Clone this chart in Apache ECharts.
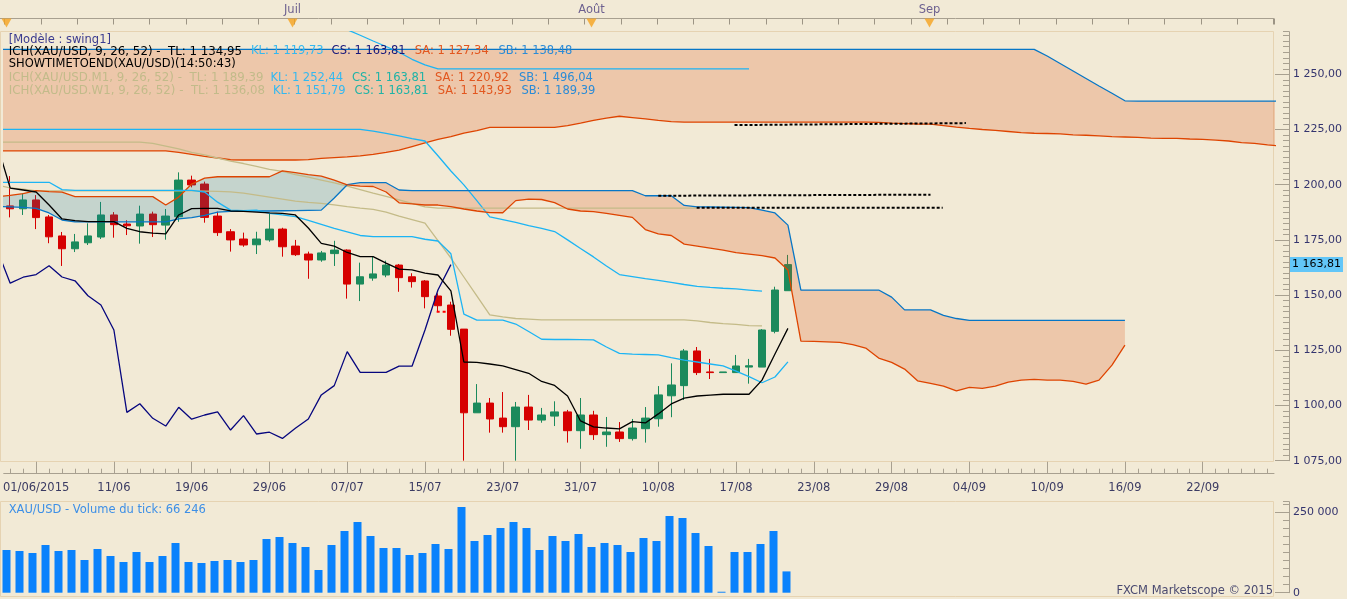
<!DOCTYPE html>
<html><head><meta charset="utf-8">
<script src="https://cdn.jsdelivr.net/npm/echarts@6.0.0/dist/echarts.min.js"></script>
<style>html,body{margin:0;padding:0;background:#f2ead6;overflow:hidden}#chart{width:1347px;height:599px}</style>
</head><body><div id="chart"></div>
<script>
// ================= DATA =================
const barCount = 98;
const tickLabels = ['01/06/2015','11/06','19/06','29/06','07/07','15/07','23/07','31/07','10/08','17/08','23/08','29/08','04/09','10/09','16/09','22/09'];
const tickFirstBar = 2, tickEvery = 6;
const priceTicks = [1075,1100,1125,1150,1175,1200,1225,1250];
const volumeTicks = [0,250000];
const monthBars = [0,22,45,71];
const monthNames = ['','Juil','Août','Sep'];

const open  = [1190.4,1189.1,1193.1,1185.4,1176.8,1171.0,1173.7,1176.3,1186.3,1182.2,1181.3,1186.7,1181.7,1185.5,1202.1,1200.3,1185.8,1178.7,1175.4,1172.8,1175.0,1179.9,1172.2,1168.6,1165.9,1168.8,1170.4,1155.0,1157.7,1159.1,1163.6,1158.3,1156.4,1149.6,1145.5,1134.6,1096.7,1101.1,1094.3,1090.4,1099.3,1093.4,1095.2,1097.1,1088.6,1095.7,1086.8,1088.0,1085.0,1089.5,1094.0,1104.4,1109.0,1124.7,1115.2,1114.9,1114.9,1117.4,1117.4,1133.6,1152.0];
const close = [1189.1,1193.1,1185.1,1176.4,1171.0,1174.1,1176.8,1186.3,1181.9,1181.4,1186.7,1181.9,1185.8,1202.1,1199.9,1185.2,1178.3,1175.0,1172.7,1175.4,1179.9,1171.9,1168.3,1165.9,1169.1,1170.4,1155.0,1158.3,1159.6,1163.6,1157.9,1156.1,1149.3,1145.2,1134.5,1096.7,1101.1,1093.9,1090.4,1099.3,1093.4,1095.7,1097.1,1088.6,1095.7,1086.8,1088.0,1085.0,1089.8,1094.3,1104.8,1109.3,1124.7,1114.9,1114.9,1115.2,1117.9,1118.0,1134.2,1152.3,1163.81];
const low   = [1185.2,1186.3,1179.9,1173.5,1163.2,1169.5,1172.7,1175.4,1176.0,1177.2,1173.3,1176.3,1175.1,1183.2,1198.8,1182.8,1176.8,1169.7,1171.9,1168.6,1174.2,1167.4,1167.7,1157.4,1165.1,1163.2,1148.4,1147.3,1156.5,1158.1,1151.5,1153.4,1144.0,1142.5,1131.6,1075.0,1096.7,1087.7,1087.7,1075.0,1088.9,1092.2,1090.7,1083.2,1080.4,1084.4,1081.3,1083.5,1084.1,1083.2,1090.4,1094.7,1102.5,1113.8,1112.0,1114.9,1114.9,1109.9,1117.4,1132.7,1152.0];
const high  = [1203.9,1196.1,1195.3,1186.3,1178.6,1177.7,1182.5,1192.2,1187.6,1183.9,1190.5,1187.8,1189.0,1205.6,1204.1,1201.4,1187.8,1179.9,1178.3,1178.7,1187.3,1180.5,1175.0,1169.7,1170.0,1174.6,1170.7,1164.7,1167.4,1165.6,1164.1,1159.9,1156.8,1150.8,1147.0,1134.6,1109.7,1103.4,1106.1,1101.6,1104.8,1098.9,1101.9,1098.0,1103.4,1097.6,1094.8,1092.5,1093.9,1099.3,1108.8,1119.1,1125.6,1126.5,1121.1,1115.2,1122.9,1121.1,1134.6,1153.8,1168.2];
const volume = [132800,129700,123400,148300,129700,132800,101700,135900,114100,95500,126600,95500,114100,154500,95500,92400,98600,101700,95500,101700,167000,173200,154500,142100,70600,148300,191900,219800,176300,139000,139000,117200,123400,151400,135900,266500,160800,179400,201200,219800,201200,132800,176300,160800,182500,142100,154500,148300,126600,170100,160800,238500,232300,185600,145200,3000,126600,126600,151400,191900,66246];

// daily Ichimoku (bar index of first value = -1)
const lineStart = -1;
const tenkan = [1218.0,1198.5,1197.6,1196.7,1190.8,1184.5,1183.7,1183.3,1183.3,1183.3,1180.2,1178.7,1178.1,1177.7,1186.3,1189.2,1189.3,1189.3,1188.1,1187.9,1187.6,1187.2,1187.0,1186.3,1180.4,1173.4,1172.2,1169.3,1167.4,1167.4,1164.5,1161.8,1161.4,1160.0,1159.1,1151.9,1119.7,1119.5,1118.8,1117.9,1116.3,1114.6,1110.9,1109.1,1104.3,1093.0,1090.3,1089.8,1089.4,1092.7,1092.1,1096.2,1100.7,1103.3,1104.3,1104.7,1105.1,1105.1,1105.1,1111.5,1123.3,1134.95];
const kijun = [1201.1,1201.1,1201.1,1201.1,1201.1,1197.8,1197.4,1197.4,1197.4,1197.4,1197.4,1197.4,1197.4,1197.4,1197.4,1197.4,1196.7,1192.1,1188.5,1188.3,1188.5,1187.0,1186.3,1185.5,1183.8,1182.0,1180.2,1178.6,1177.0,1176.5,1176.5,1176.5,1176.5,1175.3,1174.5,1168.7,1141.4,1138.7,1138.7,1138.7,1136.9,1133.5,1130.0,1129.9,1129.9,1129.8,1129.7,1126.5,1123.6,1123.3,1123.1,1122.9,1121.7,1120.6,1119.7,1118.8,1117.9,1115.6,1113.1,1110.3,1112.9,1119.73];
const chikou = [1170.4,1155.4,1158.1,1159.3,1163.3,1158.2,1156.5,1149.7,1145.5,1134.2,1096.9,1100.8,1094.2,1090.7,1099.2,1093.8,1095.7,1097.1,1088.9,1095.4,1087.1,1087.9,1085.1,1089.7,1093.9,1104.8,1109.0,1124.4,1115.0,1115.0,1115.0,1117.8,1117.8,1134.2,1152.3,1163.81];
const spanA = [1194.5,1195.2,1196.0,1197.3,1196.9,1196.6,1194.6,1194.6,1194.6,1194.6,1194.6,1194.6,1194.6,1190.8,1194.4,1200.3,1203.0,1203.6,1203.6,1203.6,1203.6,1203.6,1206.3,1205.5,1204.6,1203.9,1202.1,1199.9,1199.4,1199.2,1196.7,1191.8,1191.3,1190.8,1190.8,1190.1,1189.0,1188.1,1187.4,1187.3,1192.8,1193.5,1193.3,1191.9,1189.0,1188.1,1187.8,1187.0,1186.1,1185.2,1179.7,1177.7,1177.0,1173.1,1172.2,1171.3,1170.4,1169.2,1168.6,1167.9,1166.8,1161.4,1129.2,1129.0,1128.8,1128.6,1127.6,1126.0,1121.5,1119.5,1116.5,1111.2,1110.0,1108.8,1106.6,1108.2,1107.8,1108.8,1110.6,1111.5,1111.8,1111.5,1111.5,1110.9,1109.7,1111.5,1118.3,1127.3];
const spanB = [1190.2,1190.0,1189.7,1189.3,1187.2,1184.0,1183.2,1183.2,1183.2,1183.2,1183.2,1183.2,1183.2,1183.2,1184.5,1185.1,1186.1,1187.6,1187.9,1188.0,1188.1,1188.1,1188.2,1188.3,1188.4,1188.5,1194.0,1200.0,1200.9,1200.9,1200.9,1197.6,1197.3,1197.3,1197.3,1197.3,1197.3,1197.3,1197.3,1197.3,1197.3,1197.3,1197.3,1197.3,1197.3,1197.3,1197.3,1197.3,1197.3,1197.3,1195.0,1195.0,1195.0,1190.6,1190.0,1189.9,1189.8,1189.7,1189.6,1188.5,1187.2,1181.7,1152.3,1152.3,1152.3,1152.3,1152.3,1152.3,1152.3,1149.1,1143.3,1143.3,1143.3,1140.8,1139.4,1138.6,1138.6,1138.6,1138.6,1138.6,1138.6,1138.6,1138.6,1138.6,1138.6,1138.6,1138.6,1138.6];

// monthly Ichimoku
const m1SpanA = [1215.3,1215.3,1215.3,1215.3,1215.3,1215.3,1215.3,1215.3,1215.3,1215.3,1215.3,1215.3,1215.3,1215.3,1214.6,1213.7,1212.8,1212.1,1211.3,1211.2,1211.2,1211.2,1211.2,1211.2,1211.4,1211.9,1212.3,1212.6,1213.1,1213.7,1214.6,1215.7,1217.3,1218.9,1220.5,1221.8,1223.4,1224.5,1226.0,1226.0,1226.0,1226.0,1226.0,1226.0,1226.8,1227.9,1229.1,1230.2,1231.0,1230.4,1229.8,1229.1,1228.6,1228.3,1228.3,1228.3,1228.3,1228.3,1228.3,1228.3,1228.3,1228.3,1228.3,1228.3,1228.3,1228.3,1228.3,1228.3,1228.2,1227.9,1227.7,1227.5,1227.4,1226.8,1226.1,1225.5,1225.0,1224.6,1224.1,1223.6,1223.3,1223.2,1223.0,1222.6,1222.4,1222.1,1221.8,1221.6,1221.4,1221.1,1221.0,1221.0,1220.7,1220.5,1220.2,1219.8,1219.1,1218.7,1218.0,1217.5];
const m1SpanB = [1261.3,1261.3,1261.3,1261.3,1261.3,1261.3,1261.3,1261.3,1261.3,1261.3,1261.3,1261.3,1261.3,1261.3,1261.3,1261.3,1261.3,1261.3,1261.3,1261.3,1261.3,1261.3,1261.3,1261.3,1261.3,1261.3,1261.3,1261.3,1261.3,1261.3,1261.3,1261.3,1261.3,1261.3,1261.3,1261.3,1261.3,1261.3,1261.3,1261.3,1261.3,1261.3,1261.3,1261.3,1261.3,1261.3,1261.3,1261.3,1261.3,1261.3,1261.3,1261.3,1261.3,1261.3,1261.3,1261.3,1261.3,1261.3,1261.3,1261.3,1261.3,1261.3,1261.3,1261.3,1261.3,1261.3,1261.3,1261.3,1261.3,1261.3,1261.3,1261.3,1261.3,1261.3,1261.3,1261.3,1261.3,1261.3,1261.3,1261.3,1261.3,1258.3,1254.9,1251.5,1248.1,1244.7,1241.4,1238.0,1237.9,1237.9,1237.9,1237.9,1237.9,1237.9,1237.9,1237.9,1237.9,1237.9,1237.9,1237.9];
const m1Tenkan = [1219.3,1219.3,1219.3,1219.3,1219.3,1219.3,1219.3,1219.3,1219.3,1219.3,1219.3,1219.3,1218.7,1217.5,1216.2,1214.6,1213.5,1212.1,1210.7,1209.6,1208.3,1206.9,1206.0,1204.6,1203.4,1202.1,1200.8,1199.4,1197.8,1196.2,1194.7,1193.1,1191.5,1190.0,1189.4,1189.4,1189.4,1189.4,1189.4,1189.4,1189.4,1189.4,1189.4,1189.4,1189.4,1189.4,1189.4,1189.4,1189.4,1189.4,1189.4,1189.4,1189.4,1189.4,1189.4];
const m1KijunStart = 25;
const m1Kijun = [1272.8,1270.2,1267.7,1265.1,1262.6,1260.0,1256.8,1254.3,1252.5,1252.5,1252.5,1252.5,1252.5,1252.5,1252.5,1252.5,1252.5,1252.5,1252.5,1252.5,1252.5,1252.5,1252.5,1252.5,1252.5,1252.5,1252.5,1252.5,1252.5,1252.5,1252.5,1252.5,1252.5];
// weekly Ichimoku
const w1Tenkan = [1199.8,1198.6,1198.0,1197.2,1197.2,1197.2,1197.2,1197.2,1197.2,1197.2,1197.2,1197.2,1197.2,1197.2,1197.2,1197.2,1197.1,1197.0,1196.8,1196.2,1195.3,1194.4,1193.5,1192.6,1192.0,1191.5,1190.9,1190.1,1189.4,1188.8,1187.6,1185.8,1184.2,1182.6,1174.7,1166.8,1158.2,1149.6,1141.0,1140.1,1139.4,1139.1,1138.8,1138.8,1138.8,1138.8,1138.8,1138.8,1138.8,1138.8,1138.8,1138.8,1138.8,1138.8,1138.3,1137.6,1137.1,1136.7,1136.2,1136.08];
const w1Kijun = [1225.1,1225.1,1225.1,1225.1,1225.1,1225.1,1225.1,1225.1,1225.1,1225.1,1225.1,1225.1,1225.1,1225.1,1225.1,1225.1,1225.1,1225.1,1225.1,1225.1,1225.1,1225.1,1225.1,1225.1,1225.1,1225.1,1225.1,1225.1,1225.1,1224.3,1223.2,1222.1,1220.9,1219.8,1213.1,1206.2,1199.9,1192.8,1185.4,1184.2,1182.9,1181.5,1180.2,1178.8,1175.0,1171.1,1167.3,1163.2,1159.3,1158.4,1157.5,1156.7,1155.8,1154.8,1154.0,1153.5,1153.1,1152.8,1152.3,1151.79];

// drawn horizontal levels: [barStart, priceStart, barEnd, priceEnd]
const levelLines = [[55.88,1227.0,73.73,1227.9],[50.0,1195.0,71.0,1195.5],[52.96,1189.6,71.94,1189.6]];
const stopMark = [32.9,1142.5,33.7,1142.5];
const lastPrice = 1163.81;

// legend texts
const legendRows = [
  [['[Modèle : swing1]','model']],
  [['ICH(XAU/USD, 9, 26, 52) -  TL: 1 134,95','black'],['KL: 1 119,73','kl'],['CS: 1 163,81','cs'],['SA: 1 127,34','sa'],['SB: 1 138,48','sb']],
  [['SHOWTIMETOEND(XAU/USD)(14:50:43)','black']],
  [['ICH(XAU/USD.M1, 9, 26, 52) -  TL: 1 189,39','tlx'],['KL: 1 252,44','kl'],['CS: 1 163,81','csx'],['SA: 1 220,92','sa'],['SB: 1 496,04','sb']],
  [['ICH(XAU/USD.W1, 9, 26, 52) -  TL: 1 136,08','tlx'],['KL: 1 151,79','kl'],['CS: 1 163,81','csx'],['SA: 1 143,93','sa'],['SB: 1 189,39','sb']]
];
const volumeTitle = 'XAU/USD - Volume du tick: 66 246';
const copyright = 'FXCM Marketscope © 2015';

// ================= STYLE / LAYOUT =================
const FONT = '"DejaVu Sans", Verdana, sans-serif';
const C = {bg:'#f2ead6', border:'#e6d3b2', axis:'#a8a090', label:'#34346e', green:'#1b8a5c', red:'#d60000',
  black:'#000000', kl:'#1cb4f4', cs:'#06067e', sa:'#de4400', sb:'#0676c6', tlx:'#c4bb88', csx:'#1fb2a4', model:'#3b3b8f',
  blueCloud:'rgba(20,125,170,0.2)', peachCloud:'rgba(220,70,10,0.21)', vol:'#0a82fc'};
const LW = 1.3;
const legendColor = {model:'#3b3b8f', black:'#000', kl:'#33b8f0', cs:'#17177a', sa:'#e2561e', sb:'#2b8bd6', tlx:'#c2bb8a', csx:'#1fb3a6'};
const legendX = [[8.7],[8.7,251,331.6,414.8,498.5],[8.7],[8.7,270.4,352,435,519],[8.7,273,354.6,437.8,521.4]];
const legendY = [40,51.5,64.5,78,91];
const PLOT_W = 1274, MAIN_TOP = 31.7, MAIN_H = 429, VOL_TOP = 501.7, VOL_H = 91;

function fmtNum(v, dec){
  const s = v.toFixed(dec); const parts = s.split('.');
  const ip = parts[0].replace(/\B(?=(\d{3})+(?!\d))/g,' ');
  return parts[1] ? ip + ',' + parts[1] : ip;
}
const isTickBar = i => i >= tickFirstBar && (i - tickFirstBar) % tickEvery === 0 && (i - tickFirstBar) / tickEvery < tickLabels.length;
const categories = Array.from({length: barCount}, (_, i) => isTickBar(i) ? tickLabels[(i - tickFirstBar) / tickEvery] : 'b' + i);

function lineSeries(arr, start, color, extra){
  return Object.assign({type:'line', xAxisIndex:2, yAxisIndex:0, data: arr.map((v,i)=>[start+i, v]),
    symbol:'none', showSymbol:false, silent:true, z:4, animation:false,
    lineStyle:{color: color, width:LW}}, extra || {});
}
function cloudSeries(A, B, start){
  return {type:'custom', xAxisIndex:2, yAxisIndex:0, clip:true, silent:true, z:3, animation:false,
    data:[[0,0]],
    renderItem: function(params, api){
      const P = (x,v) => api.coord([x,v]);
      const polys = []; let up = [], dn = [], sign = 0;
      for (let i = 0; i < A.length; i++){
        const x = start + i, d = A[i] - B[i];
        const s = d > 0 ? 1 : (d < 0 ? -1 : (sign || 1));
        if (i > 0 && s !== sign){
          const d0 = A[i-1] - B[i-1]; const t = d0 / (d0 - d);
          const pc = P(x - 1 + t, A[i-1] + t * (A[i] - A[i-1]));
          up.push(pc); polys.push({sign: sign, pts: up.concat(dn.slice().reverse())});
          up = [pc]; dn = [];
        }
        sign = s; up.push(P(x, A[i])); dn.push(P(x, B[i]));
      }
      polys.push({sign: sign, pts: up.concat(dn.slice().reverse())});
      return {type:'group', children: polys.map(p => ({type:'polygon', shape:{points:p.pts},
        style:{fill: p.sign > 0 ? C.blueCloud : C.peachCloud}}))};
    }};
}

const candleData = open.map((o,i)=>[o, close[i], low[i], high[i]]);

const series = [
  {type:'candlestick', xAxisIndex:0, yAxisIndex:0, data:candleData, barWidth:8, z:2, animation:false,
   itemStyle:{color:C.green, color0:C.red, borderColor:C.green, borderColor0:C.red, borderWidth:1}},
  cloudSeries(m1SpanA, m1SpanB, lineStart),
  cloudSeries(spanA, spanB, lineStart),
  lineSeries(m1SpanB, lineStart, C.sb),
  lineSeries(m1SpanA, lineStart, C.sa),
  lineSeries(m1Kijun, m1KijunStart, C.kl),
  lineSeries(w1Kijun, lineStart, C.kl),
  lineSeries(m1Tenkan, lineStart, C.tlx),
  lineSeries(w1Tenkan, lineStart, C.tlx),
  lineSeries(spanB, lineStart, C.sb),
  lineSeries(spanA, lineStart, C.sa),
  lineSeries(kijun, lineStart, C.kl),
  lineSeries(chikou, lineStart, C.cs),
  lineSeries(tenkan, lineStart, C.black),
];
levelLines.forEach(l => series.push({type:'line', xAxisIndex:2, yAxisIndex:0, data:[[l[0],l[1]],[l[2],l[3]]],
  symbol:'none', silent:true, z:5, animation:false, lineStyle:{color:'#000', width:2, type:[3,2]}}));
series.push({type:'line', xAxisIndex:2, yAxisIndex:0, data:[[stopMark[0],stopMark[1]],[stopMark[2],stopMark[3]]],
  symbol:'none', silent:true, z:5, animation:false, lineStyle:{color:'#ff0000', width:2, type:[3,3]}});
series.push({type:'bar', xAxisIndex:3, yAxisIndex:2, data:volume, barWidth:8, itemStyle:{color:C.vol}, animation:false, silent:true});
series.push({type:'scatter', xAxisIndex:5, yAxisIndex:5, data: monthBars.map(b=>[b,1]), symbol:'triangle', symbolRotate:180,
  symbolSize:[10,9], symbolOffset:[0,4.5], itemStyle:{color:'#f5a21e'}, silent:true, animation:false, clip:false,
  label:{show:true, position:'top', distance:2, formatter:p=>monthNames[p.dataIndex], color:'#4b3d7d', fontFamily:FONT, fontSize:11.5}});

const graphics = [
  {type:'rect', shape:{x:0.5, y:31.5, width:PLOT_W-1, height:430}, style:{fill:'none', stroke:C.border, lineWidth:1}, z:-1},
  {type:'rect', shape:{x:0.5, y:501.5, width:PLOT_W-1, height:95}, style:{fill:'none', stroke:C.border, lineWidth:1}, z:-1},
  {type:'line', shape:{x1:0, y1:18.5, x2:PLOT_W, y2:18.5}, style:{stroke:'#a8a090', lineWidth:1}, z:1},
  {type:'text', x:8.7, y:510, style:{text:volumeTitle, fill:'#3d8fe6', font:'11.5px '+FONT, verticalAlign:'middle'}, z:50},
  {type:'text', x:1273, y:591, style:{text:copyright, fill:'#4a4a70', font:'11.5px '+FONT, verticalAlign:'middle', align:'right'}, z:50}
];
legendRows.forEach((row, r) => row.forEach((seg, s) => graphics.push({type:'text', x:legendX[r][s], y:legendY[r],
  style:{text:seg[0], fill:legendColor[seg[1]], font:((s === 0 && row.length > 1) ? '11.8px ' : '11.5px ') + FONT, verticalAlign:'middle'}, z:50})));

const option = {
  backgroundColor: C.bg, animation:false,
  textStyle:{fontFamily:FONT},
  grid:[
    {left:0, top:MAIN_TOP, width:PLOT_W, height:MAIN_H},
    {left:0, top:VOL_TOP, width:PLOT_W, height:VOL_H},
    {left:4.55, top:18.5, width:PLOT_W-4.55, height:13},
    {left:0, top:18.5, width:PLOT_W, height:13}
  ],
  xAxis:[
    {type:'category', gridIndex:0, data:categories, position:'bottom', offset:13,
     axisLine:{show:true, onZero:false, lineStyle:{color:C.axis}},
     axisTick:{show:true, inside:true, length:12, alignWithLabel:true, interval:(i)=>isTickBar(i), lineStyle:{color:C.axis}},
     axisLabel:{show:true, interval:(i)=>isTickBar(i), color:'#3b3b63', fontFamily:FONT, fontSize:11.5, margin:8},
     splitLine:{show:false}},
    {type:'category', gridIndex:0, data:categories, position:'bottom', offset:13,
     axisLine:{show:false, onZero:false}, axisTick:{show:true, inside:true, length:5, alignWithLabel:true, interval:0, lineStyle:{color:C.axis}},
     axisLabel:{show:false}, splitLine:{show:false}},
    {type:'value', gridIndex:0, min:-0.5, max:barCount-0.5, show:false, axisLine:{onZero:false}},
    {type:'category', gridIndex:1, data:categories, show:false, axisLine:{onZero:false}},
    {type:'value', gridIndex:2, min:0, max:PLOT_W-4.55, interval:36.25, position:'top',
     axisLine:{show:false, onZero:false}, axisTick:{show:true, inside:true, length:6, lineStyle:{color:'#9c9484'}},
     axisLabel:{show:false}, splitLine:{show:false}},
    {type:'value', gridIndex:3, min:-0.5, max:barCount-0.5, show:false, axisLine:{onZero:false}}
  ],
  yAxis:[
    {type:'value', gridIndex:0, min:1075, max:1269.3, position:'right', offset:15,
     axisLine:{show:true, onZero:false, lineStyle:{color:C.axis}},
     axisTick:{show:true, inside:true, length:14, customValues:priceTicks, lineStyle:{color:C.axis}},
     axisLabel:{show:true, customValues:priceTicks, formatter:v=>fmtNum(v,2), margin:4, color:C.label, fontFamily:FONT, fontSize:11},
     splitLine:{show:false}},
    {type:'value', gridIndex:0, min:1075, max:1269.3, interval:2.5, position:'right', offset:15,
     axisLine:{show:false, onZero:false}, axisTick:{show:true, inside:true, length:6, lineStyle:{color:C.axis}},
     axisLabel:{show:false}, splitLine:{show:false}},
    {type:'value', gridIndex:1, min:0, max:283000, position:'right', offset:15,
     axisLine:{show:true, onZero:false, lineStyle:{color:C.axis}},
     axisTick:{show:true, inside:true, length:14, customValues:volumeTicks, lineStyle:{color:C.axis}},
     axisLabel:{show:true, customValues:volumeTicks, formatter:v=>fmtNum(v,0), margin:4, color:C.label, fontFamily:FONT, fontSize:11},
     splitLine:{show:false}},
    {type:'value', gridIndex:1, min:0, max:283000, interval:25000, position:'right', offset:15,
     axisLine:{show:false, onZero:false}, axisTick:{show:true, inside:true, length:6, lineStyle:{color:C.axis}},
     axisLabel:{show:false}, splitLine:{show:false}},
    {type:'value', gridIndex:2, min:0, max:1, show:false},
    {type:'value', gridIndex:3, min:0, max:1, show:false}
  ],
  graphic: graphics,
  series: series
};
const chart = echarts.init(document.getElementById('chart'));
chart.setOption(option);
// current-price tag on the price axis, placed through the axis scale
const yLast = chart.convertToPixel({yAxisIndex:0}, lastPrice);
graphics.push({type:'text', x:PLOT_W + 16, y:yLast, z:60,
  style:{text:fmtNum(lastPrice,2), fill:'#000', font:'11px '+FONT, verticalAlign:'middle',
    backgroundColor:'#62c6f8', padding:[2,2,2,2]}});
chart.setOption({graphic: graphics});
</script></body></html>
